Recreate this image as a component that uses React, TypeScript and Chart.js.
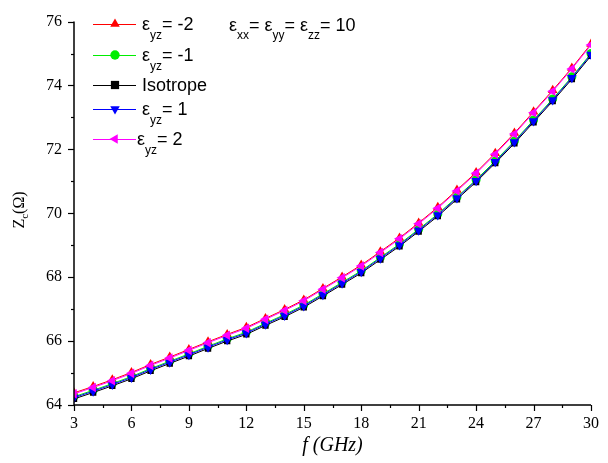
import React, { useEffect, useRef } from "react";
import { Chart, registerables } from "chart.js";

Chart.register(...registerables);

const freq = [3, 4, 5, 6, 7, 8, 9, 10, 11, 12, 13, 14, 15, 16, 17, 18, 19, 20, 21, 22, 23, 24, 25, 26, 27, 28, 29, 30];

const epsM2 = [64.38, 64.58, 64.79, 65.02, 65.27, 65.50, 65.74, 65.98, 66.21, 66.43, 66.71, 66.99, 67.29, 67.65, 68.01, 68.38, 68.80, 69.23, 69.70, 70.19, 70.73, 71.28, 71.88, 72.51, 73.18, 73.85, 74.55, 75.30];
const epsM1 = [64.26, 64.46, 64.67, 64.89, 65.14, 65.37, 65.60, 65.84, 66.07, 66.28, 66.56, 66.83, 67.13, 67.48, 67.84, 68.20, 68.62, 69.04, 69.50, 69.98, 70.51, 71.05, 71.64, 72.26, 72.92, 73.58, 74.27, 75.00];
const isotrope = [64.19, 64.39, 64.60, 64.82, 65.07, 65.30, 65.53, 65.77, 66.00, 66.21, 66.49, 66.76, 67.06, 67.41, 67.77, 68.13, 68.55, 68.97, 69.43, 69.91, 70.44, 70.98, 71.57, 72.19, 72.85, 73.51, 74.20, 74.93];
const epsP1 = [64.23, 64.43, 64.64, 64.86, 65.11, 65.34, 65.57, 65.81, 66.04, 66.25, 66.53, 66.80, 67.10, 67.45, 67.81, 68.17, 68.59, 69.01, 69.47, 69.95, 70.48, 71.02, 71.61, 72.23, 72.89, 73.55, 74.24, 74.97];
const epsP2 = [64.35, 64.55, 64.76, 64.99, 65.24, 65.47, 65.71, 65.95, 66.18, 66.40, 66.68, 66.96, 67.26, 67.62, 67.98, 68.35, 68.77, 69.20, 69.67, 70.16, 70.70, 71.25, 71.85, 72.48, 73.15, 73.82, 74.52, 75.27];

const xMajorTicks = [3, 6, 9, 12, 15, 18, 21, 24, 27, 30];
const yMajorTicks = [64, 66, 68, 70, 72, 74, 76];

type SeriesDef = { label: string; sub: string | null; rest: string; data: number[]; color: string; style: string; rotation: number };

const seriesDefs: SeriesDef[] = [
  { label: "ε_yz= -2", sub: "yz", rest: "= -2", data: epsM2, color: "#ff0000", style: "triangle", rotation: 0 },
  { label: "ε_yz= -1", sub: "yz", rest: "= -1", data: epsM1, color: "#00ee00", style: "circle", rotation: 0 },
  { label: "Isotrope", sub: null, rest: "Isotrope", data: isotrope, color: "#000000", style: "rect", rotation: 0 },
  { label: "ε_yz= 1", sub: "yz", rest: "= 1", data: epsP1, color: "#0000ff", style: "triangle", rotation: 180 },
  { label: "ε_yz= 2", sub: "yz", rest: "= 2", data: epsP2, color: "#ff00ff", style: "triangle", rotation: -90 },
];

const legendRowsY = [24, 55, 85, 109, 139];
const legendTextX = [142, 142, 142, 142, 137];

function drawMarker(ctx: CanvasRenderingContext2D, style: string, rotation: number, x: number, y: number, r: number, color: string) {
  ctx.save();
  ctx.fillStyle = color;
  ctx.beginPath();
  if (style === "circle") {
    ctx.arc(x, y, r * 0.85, 0, Math.PI * 2);
  } else if (style === "rect") {
    const s = r * 0.75;
    ctx.rect(x - s, y - s, 2 * s, 2 * s);
  } else {
    const rad = (rotation * Math.PI) / 180;
    for (let i = 0; i < 3; i++) {
      const a = rad + (i * 2 * Math.PI) / 3;
      const px = x + Math.sin(a) * r;
      const py = y - Math.cos(a) * r;
      if (i === 0) ctx.moveTo(px, py);
      else ctx.lineTo(px, py);
    }
    ctx.closePath();
  }
  ctx.fill();
  ctx.restore();
}

const SANS = "'Liberation Sans', Arial, sans-serif";
const SERIF = "'Liberation Serif', 'Times New Roman', serif";
const MAIN = 18;
const SUB = 12;

const decorPlugin = {
  id: "decor",
  afterDraw(chart: any) {
    const ctx: CanvasRenderingContext2D = chart.ctx;
    const xs = chart.scales.x;
    const ys = chart.scales.y;
    const area = chart.chartArea;
    ctx.save();
    // axes
    ctx.strokeStyle = "#000";
    ctx.lineWidth = 1.5;
    ctx.beginPath();
    ctx.moveTo(area.left, area.top);
    ctx.lineTo(area.left, area.bottom);
    ctx.lineTo(area.right, area.bottom);
    ctx.stroke();
    // y ticks
    ctx.lineWidth = 1.2;
    for (let v = yMajorTicks[0]; v <= yMajorTicks[yMajorTicks.length - 1]; v += 1) {
      const py = Math.round(ys.getPixelForValue(v)) + 0.5;
      const len = v % 2 === 0 ? 6 : 3;
      ctx.beginPath();
      ctx.moveTo(area.left - len, py);
      ctx.lineTo(area.left, py);
      ctx.stroke();
    }
    for (let v = xMajorTicks[0]; v <= xMajorTicks[xMajorTicks.length - 1] + 0.01; v += 1.5) {
      const px = Math.round(xs.getPixelForValue(v)) + 0.5;
      const major = Math.abs((v - 3) % 3) < 0.01;
      const len = major ? 6 : 3;
      ctx.beginPath();
      ctx.moveTo(px, area.bottom);
      ctx.lineTo(px, area.bottom + len);
      ctx.stroke();
    }
    // x title
    ctx.fillStyle = "#000";
    ctx.font = `italic 20px ${SERIF}`;
    ctx.textAlign = "center";
    ctx.textBaseline = "middle";
    ctx.fillText("f (GHz)", (area.left + area.right) / 2, 446);
    // y title
    ctx.save();
    ctx.translate(20, 210);
    ctx.rotate(-Math.PI / 2);
    ctx.textAlign = "left";
    ctx.font = `16px ${SERIF}`;
    const zW = ctx.measureText("Z").width;
    ctx.font = `11px ${SERIF}`;
    const cW = ctx.measureText("c").width;
    ctx.font = `16px ${SERIF}`;
    const oW = ctx.measureText("(Ω)").width;
    const total = zW + cW + oW;
    let cx = -total / 2;
    ctx.fillText("Z", cx, 0);
    cx += zW;
    ctx.font = `11px ${SERIF}`;
    ctx.fillText("c", cx, 5);
    cx += cW;
    ctx.font = `16px ${SERIF}`;
    ctx.fillText("(Ω)", cx, 0);
    ctx.restore();

    // legend
    ctx.textAlign = "left";
    ctx.textBaseline = "middle";
    seriesDefs.forEach((s, i) => {
      const y = legendRowsY[i];
      ctx.strokeStyle = s.color;
      ctx.lineWidth = 1;
      ctx.beginPath();
      ctx.moveTo(93, y + 0.5);
      ctx.lineTo(136, y + 0.5);
      ctx.stroke();
      drawMarker(ctx, s.style, s.rotation, 115, y, 5.5, s.color);
      ctx.fillStyle = "#000";
      let tx = legendTextX[i];
      if (s.sub) {
        ctx.font = `${MAIN}px ${SANS}`;
        ctx.fillText("ε", tx, y + 1);
        tx += ctx.measureText("ε").width;
        ctx.font = `${SUB}px ${SANS}`;
        ctx.fillText(s.sub, tx, y + 12);
        tx += ctx.measureText(s.sub).width;
        ctx.font = `${MAIN}px ${SANS}`;
        ctx.fillText(s.rest, tx, y + 1);
      } else {
        ctx.font = `${MAIN}px ${SANS}`;
        ctx.fillText(s.rest, tx, y + 1);
      }
    });

    // annotation
    const parts: [string, string, string][] = [["ε", "xx", "= "], ["ε", "yy", "= "], ["ε", "zz", "= 10"]];
    let ax = 229;
    const ay = 25;
    parts.forEach(([a, b, c]) => {
      ctx.font = `${MAIN}px ${SANS}`;
      ctx.fillText(a, ax, ay + 1);
      ax += ctx.measureText(a).width;
      ctx.font = `${SUB}px ${SANS}`;
      ctx.fillText(b, ax, ay + 11);
      ax += ctx.measureText(b).width;
      ctx.font = `${MAIN}px ${SANS}`;
      ctx.fillText(c, ax, ay + 1);
      ax += ctx.measureText(c).width;
    });
    ctx.restore();
  },
};

export default function App() {
  const ref = useRef<HTMLCanvasElement | null>(null);
  useEffect(() => {
    if (!ref.current) return;
    const chart = new Chart(ref.current, {
      type: "line",
      data: {
        datasets: seriesDefs.map((s, i) => ({
          label: s.label,
          data: freq.map((f, j) => ({ x: f, y: s.data[j] })),
          borderColor: s.color,
          backgroundColor: s.color,
          borderWidth: 1,
          pointStyle: s.style as any,
          pointRotation: s.rotation,
          pointRadius: s.style === "rect" ? 4.5 : s.style === "circle" ? 4.5 : 5.5,
          pointBorderWidth: 0,
          pointBackgroundColor: s.color,
          tension: 0,
          order: seriesDefs.length - i,
        })),
      },
      options: {
        animation: false,
        responsive: false,
        maintainAspectRatio: false,
        layout: { padding: { top: 8, right: 16, left: 0, bottom: 0 } },
        plugins: { legend: { display: false }, tooltip: { enabled: false } },
        scales: {
          x: {
            type: "linear",
            min: 3,
            max: 30,
            afterBuildTicks: (scale: any) => {
              scale.ticks = xMajorTicks.map((v) => ({ value: v }));
            },
            afterFit: (scale: any) => {
              scale.height = 58;
            },
            grid: { display: false, drawTicks: false },
            border: { display: false },
            ticks: { color: "#000", font: { family: SERIF, size: 16 }, padding: 9, maxRotation: 0, autoSkip: false },
          },
          y: {
            type: "linear",
            min: 64,
            max: 76,
            afterBuildTicks: (scale: any) => {
              scale.ticks = yMajorTicks.map((v) => ({ value: v }));
            },
            afterFit: (scale: any) => {
              scale.width = 74;
            },
            grid: { display: false, drawTicks: false },
            border: { display: false },
            ticks: { color: "#000", font: { family: SERIF, size: 16 }, padding: 12 },
          },
        },
      },
      plugins: [decorPlugin],
    });
    return () => chart.destroy();
  }, []);
  return (
    <div style={{ position: "fixed", left: 0, top: 0, width: 608, height: 463, background: "#fff" }}>
      <canvas ref={ref} width={608} height={463} style={{ display: "block", width: 608, height: 463 }} />
    </div>
  );
}
